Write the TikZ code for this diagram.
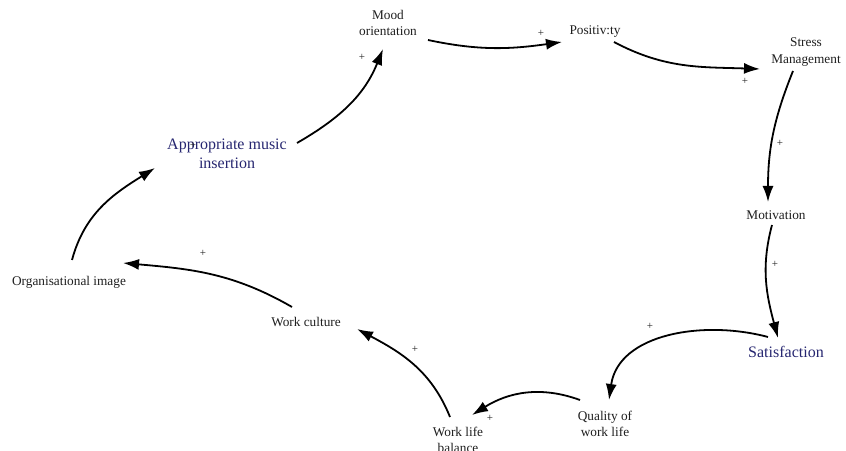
\documentclass[tikz,border=0pt]{standalone}
\usepackage{fontspec}
\setmainfont{Liberation Serif}
\usetikzlibrary{arrows.meta}
\definecolor{loopblue}{RGB}{38,38,112}
\definecolor{labelgray}{RGB}{30,30,30}
\tikzset{
  factor/.style={inner sep=1pt, align=center, text=labelgray,
    font=\fontsize{13.3}{16.5}\selectfont},
  keyfactor/.style={inner sep=1pt, align=center, text=loopblue,
    font=\fontsize{16}{19}\selectfont},
  link/.style={line width=1.8pt, -{Latex[length=16pt,width=11pt]}},
  polarity/.style={inner sep=0pt, font=\fontsize{11}{11}\selectfont, text=labelgray}
}
\begin{document}
\begin{tikzpicture}[x=1pt,y=1pt]
\useasboundingbox (0,0) rectangle (846,450);
\clip (0,0) rectangle (846,450);

% factors of the loop
\node[keyfactor] (app)    at (227,296) {Appropriate music\\insertion};
\node[factor]    (mood)   at (388,427) {Mood\\orientation};
\node[factor]    (pos)    at (595,418) {Positiv:ty};
\node[factor]    (stress) at (806,398) {Stress\\Management};
\node[factor]    (motiv)  at (776,235) {Motivation};
\node[keyfactor] (satis)  at (786,98)  {Satisfaction};
\node[factor]    (qual)   at (605,26)  {Quality of\\work life};
\node[factor]    (wlb)    at (458,10)  {Work life\\balance};
\node[factor]    (wc)     at (306,128) {Work culture};
\node[factor]    (org)    at (69,168)  {Organisational image};

% causal links
\draw[link] ([shift={(70,11)}]app.center)   to[out=30,in=-112]  ([shift={(-5,-26)}]mood.center);
\draw[link] ([shift={(40,-17)}]mood.center) to[out=-12,in=188]  ([shift={(-33,-10)}]pos.center);
\draw[link] ([shift={(19,-10)}]pos.center)  to[out=-28,in=178]  ([shift={(-46,-17)}]stress.center);
\draw[link] ([shift={(-13,-19)}]stress.center) to[out=-112,in=90] ([shift={(-8,13)}]motiv.center);
\draw[link] ([shift={(-4,-10)}]motiv.center) to[out=-105,in=105] ([shift={(-8,14)}]satis.center);
\draw[link] ([shift={(-18,15)}]satis.center) to[out=165,in=82]  ([shift={(4,24)}]qual.center);
\draw[link] ([shift={(-25,24)}]qual.center) to[out=160,in=32]   ([shift={(14,25)}]wlb.center);
\draw[link] ([shift={(-8,23)}]wlb.center)   to[out=112,in=-28]  ([shift={(51,-7)}]wc.center);
\draw[link] ([shift={(-14,15)}]wc.center)   to[out=150,in=-5]   ([shift={(54,19)}]org.center);
\draw[link] ([shift={(3,22)}]org.center)    to[out=75,in=-148]  ([shift={(-72,-14)}]app.center);

% link polarities
\node[polarity] (p1)  at (362,393) {+};
\node[polarity] (p2)  at (541,417) {+};
\node[polarity] (p3)  at (745,369) {+};
\node[polarity] (p4)  at (780,307) {+};
\node[polarity] (p5)  at (775,186) {+};
\node[polarity] (p6)  at (650,124) {+};
\node[polarity] (p7)  at (490,32)  {+};
\node[polarity] (p8)  at (415,101) {+};
\node[polarity] (p9)  at (203,197) {+};
\node[polarity] (p10) at (193,305) {+};
\end{tikzpicture}
\end{document}
